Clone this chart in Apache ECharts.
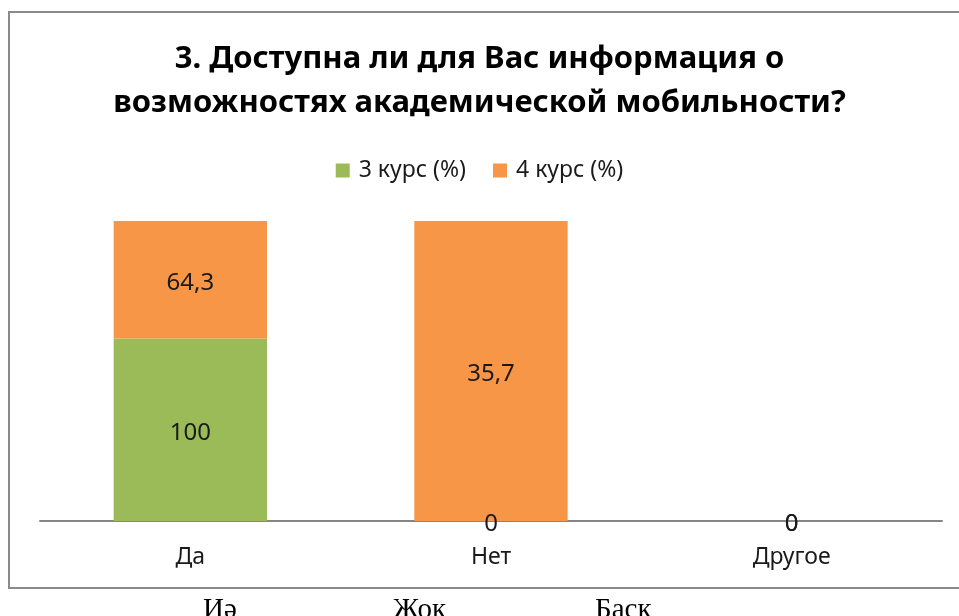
<!DOCTYPE html>
<html lang="ru">
<head>
    <meta charset="UTF-8">
    <title>Академическая мобильность</title>
    <script src="https://cdn.jsdelivr.net/npm/echarts@6/dist/echarts.min.js"></script>
    <style>
        html, body { margin: 0; padding: 0; background: #fff; }
        #main { width: 959px; height: 616px; }
    </style>
</head>
<body>
<div id="main"></div>
<script type="text/javascript">
    // данные опроса
    var categories = ['Да', 'Нет', 'Другое'];
    var course3 = [100, 0, 0];
    var course4 = [64.3, 35.7, 0];
    var seriesNames = ['3 курс (%)', '4 курс (%)'];
    var belowLabels = ['Иә', 'Жоқ', 'Басқ'];

    // столбцы нормированы до 100%, подписи показывают исходные значения
    function share(v, i) {
        var total = course3[i] + course4[i];
        return total ? v / total * 100 : 0;
    }
    function fmt(v) {
        return String(v).replace('.', ',');
    }
    function makeData(arr) {
        return arr.map(function (v, i) {
            return { value: share(v, i), raw: v };
        });
    }

    var labelStyle = {
        show: true,
        position: 'inside',
        offset: [0, 3],
        color: '#1a1a1a',
        fontSize: 24,
        fontFamily: 'Noto Sans',
        formatter: function (p) { return fmt(p.data.raw); }
    };

    var myChart = echarts.init(document.getElementById('main'));
    myChart.setOption({
        backgroundColor: '#fff',
        animation: false,
        title: {
            text: '3. Доступна ли для Вас информация о\nвозможностях академической мобильности?',
            left: 'center',
            top: 32,
            textStyle: {
                fontFamily: 'Noto Sans',
                fontWeight: 'bold',
                fontSize: 31,
                lineHeight: 44,
                color: '#000'
            }
        },
        legend: {
            top: 154,
            left: 'center',
            icon: 'rect',
            itemWidth: 14,
            itemHeight: 14,
            itemGap: 27,
            textStyle: { fontFamily: 'Noto Sans', fontSize: 23, color: '#1a1a1a', padding: [0, 0, 0, 4] },
            data: seriesNames
        },
        grid: { left: 40, right: 17, top: 221, bottom: 95 },
        xAxis: {
            type: 'category',
            data: categories,
            axisLine: { lineStyle: { color: '#868686', width: 2 } },
            axisTick: { show: false },
            axisLabel: { margin: 25, fontSize: 23, fontFamily: 'Noto Sans', color: '#1a1a1a' }
        },
        yAxis: {
            type: 'value',
            min: 0,
            max: 100,
            show: false,
            splitLine: { show: false }
        },
        series: [
            {
                name: seriesNames[0],
                type: 'bar',
                stack: 'total',
                barWidth: '51%',
                itemStyle: { color: '#9BBB59' },
                label: labelStyle,
                data: makeData(course3)
            },
            {
                name: seriesNames[1],
                type: 'bar',
                stack: 'total',
                barWidth: '51%',
                itemStyle: { color: '#F79646' },
                label: labelStyle,
                data: makeData(course4)
            }
        ],
        graphic: [
            {
                type: 'rect',
                shape: { x: 9, y: 12, width: 980, height: 576 },
                style: { fill: null, stroke: '#8a8a8a', lineWidth: 2 },
                silent: true
            },
            {
                type: 'text', left: 203, top: 596,
                style: { text: belowLabels[0], font: '29px "Liberation Serif"', fill: '#000' }
            },
            {
                type: 'text', left: 393, top: 596,
                style: { text: belowLabels[1], font: '29px "Liberation Serif"', fill: '#000' }
            },
            {
                type: 'text', left: 595, top: 596,
                style: { text: belowLabels[2], font: '29px "Liberation Serif"', fill: '#000' }
            }
        ]
    });
</script>
</body>
</html>
